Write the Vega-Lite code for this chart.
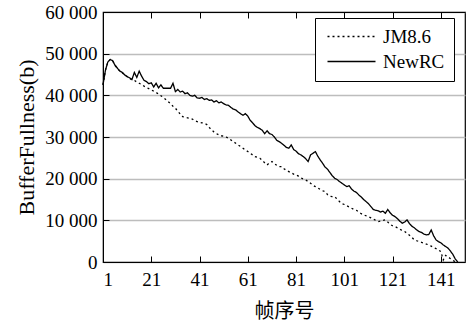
{
  "$schema": "https://vega.github.io/schema/vega-lite/v6.json",
  "width": 362,
  "height": 250,
  "autosize": "none",
  "padding": {"left": 103, "top": 12, "right": 8, "bottom": 62},
  "background": "white",
  "config": {
    "view": {"stroke": "black", "strokeWidth": 1.2},
    "font": "Liberation Serif",
    "axis": {"domainColor": "black", "tickColor": "black", "labelColor": "black", "titleColor": "black", "labelFont": "Liberation Serif", "titleFontWeight": "normal"}
  },
  "datasets": {
    "d": [
      {"frame":1,"series":"NewRC","value":42500},{"frame":2,"series":"NewRC","value":46000},{"frame":3,"series":"NewRC","value":48000},{"frame":4,"series":"NewRC","value":48600},{"frame":5,"series":"NewRC","value":48300},{"frame":6,"series":"NewRC","value":47200},{"frame":7,"series":"NewRC","value":46500},{"frame":8,"series":"NewRC","value":45800},{"frame":9,"series":"NewRC","value":45500},{"frame":10,"series":"NewRC","value":44900},
      {"frame":11,"series":"NewRC","value":44500},{"frame":12,"series":"NewRC","value":44200},{"frame":13,"series":"NewRC","value":43800},{"frame":14,"series":"NewRC","value":45500},{"frame":15,"series":"NewRC","value":44300},{"frame":16,"series":"NewRC","value":45800},{"frame":17,"series":"NewRC","value":44600},{"frame":18,"series":"NewRC","value":43600},{"frame":19,"series":"NewRC","value":43300},{"frame":20,"series":"NewRC","value":42800},
      {"frame":21,"series":"NewRC","value":43000},{"frame":22,"series":"NewRC","value":42000},{"frame":23,"series":"NewRC","value":42900},{"frame":24,"series":"NewRC","value":41800},{"frame":25,"series":"NewRC","value":42500},{"frame":26,"series":"NewRC","value":41700},{"frame":27,"series":"NewRC","value":41700},{"frame":28,"series":"NewRC","value":41700},{"frame":29,"series":"NewRC","value":41700},{"frame":30,"series":"NewRC","value":42900},
      {"frame":31,"series":"NewRC","value":40900},{"frame":32,"series":"NewRC","value":41400},{"frame":33,"series":"NewRC","value":40800},{"frame":34,"series":"NewRC","value":41000},{"frame":35,"series":"NewRC","value":40400},{"frame":36,"series":"NewRC","value":40600},{"frame":37,"series":"NewRC","value":40000},{"frame":38,"series":"NewRC","value":39800},{"frame":39,"series":"NewRC","value":40000},{"frame":40,"series":"NewRC","value":39400},
      {"frame":41,"series":"NewRC","value":39300},{"frame":42,"series":"NewRC","value":39500},{"frame":43,"series":"NewRC","value":39000},{"frame":44,"series":"NewRC","value":39200},{"frame":45,"series":"NewRC","value":38800},{"frame":46,"series":"NewRC","value":38900},{"frame":47,"series":"NewRC","value":38400},{"frame":48,"series":"NewRC","value":38700},{"frame":49,"series":"NewRC","value":38200},{"frame":50,"series":"NewRC","value":38400},
      {"frame":51,"series":"NewRC","value":38000},{"frame":52,"series":"NewRC","value":37700},{"frame":53,"series":"NewRC","value":37600},{"frame":54,"series":"NewRC","value":37100},{"frame":55,"series":"NewRC","value":36700},{"frame":56,"series":"NewRC","value":36500},{"frame":57,"series":"NewRC","value":36000},{"frame":58,"series":"NewRC","value":35600},{"frame":59,"series":"NewRC","value":35200},{"frame":60,"series":"NewRC","value":35600},
      {"frame":61,"series":"NewRC","value":35000},{"frame":62,"series":"NewRC","value":34000},{"frame":63,"series":"NewRC","value":33400},{"frame":64,"series":"NewRC","value":32700},{"frame":65,"series":"NewRC","value":32300},{"frame":66,"series":"NewRC","value":32000},{"frame":67,"series":"NewRC","value":31600},{"frame":68,"series":"NewRC","value":30800},{"frame":69,"series":"NewRC","value":31500},{"frame":70,"series":"NewRC","value":30800},
      {"frame":71,"series":"NewRC","value":30600},{"frame":72,"series":"NewRC","value":30000},{"frame":73,"series":"NewRC","value":29200},{"frame":74,"series":"NewRC","value":28900},{"frame":75,"series":"NewRC","value":28500},{"frame":76,"series":"NewRC","value":28000},{"frame":77,"series":"NewRC","value":27500},{"frame":78,"series":"NewRC","value":27300},{"frame":79,"series":"NewRC","value":28100},{"frame":80,"series":"NewRC","value":27000},
      {"frame":81,"series":"NewRC","value":26600},{"frame":82,"series":"NewRC","value":26000},{"frame":83,"series":"NewRC","value":25700},{"frame":84,"series":"NewRC","value":25300},{"frame":85,"series":"NewRC","value":24800},{"frame":86,"series":"NewRC","value":24100},{"frame":87,"series":"NewRC","value":25700},{"frame":88,"series":"NewRC","value":26100},{"frame":89,"series":"NewRC","value":26500},{"frame":90,"series":"NewRC","value":25400},
      {"frame":91,"series":"NewRC","value":24500},{"frame":92,"series":"NewRC","value":23700},{"frame":93,"series":"NewRC","value":22800},{"frame":94,"series":"NewRC","value":22300},{"frame":95,"series":"NewRC","value":21500},{"frame":96,"series":"NewRC","value":20700},{"frame":97,"series":"NewRC","value":20100},{"frame":98,"series":"NewRC","value":19800},{"frame":99,"series":"NewRC","value":19300},{"frame":100,"series":"NewRC","value":18900},
      {"frame":101,"series":"NewRC","value":18500},{"frame":102,"series":"NewRC","value":18100},{"frame":103,"series":"NewRC","value":18300},{"frame":104,"series":"NewRC","value":17500},{"frame":105,"series":"NewRC","value":17000},{"frame":106,"series":"NewRC","value":16700},{"frame":107,"series":"NewRC","value":16100},{"frame":108,"series":"NewRC","value":15600},{"frame":109,"series":"NewRC","value":15000},{"frame":110,"series":"NewRC","value":14500},
      {"frame":111,"series":"NewRC","value":14000},{"frame":112,"series":"NewRC","value":13300},{"frame":113,"series":"NewRC","value":12600},{"frame":114,"series":"NewRC","value":12400},{"frame":115,"series":"NewRC","value":12300},{"frame":116,"series":"NewRC","value":12000},{"frame":117,"series":"NewRC","value":12200},{"frame":118,"series":"NewRC","value":11700},{"frame":119,"series":"NewRC","value":12600},{"frame":120,"series":"NewRC","value":11800},
      {"frame":121,"series":"NewRC","value":11200},{"frame":122,"series":"NewRC","value":10900},{"frame":123,"series":"NewRC","value":10400},{"frame":124,"series":"NewRC","value":9800},{"frame":125,"series":"NewRC","value":9300},{"frame":126,"series":"NewRC","value":9600},{"frame":127,"series":"NewRC","value":10100},{"frame":128,"series":"NewRC","value":9200},{"frame":129,"series":"NewRC","value":8600},{"frame":130,"series":"NewRC","value":8200},
      {"frame":131,"series":"NewRC","value":7700},{"frame":132,"series":"NewRC","value":7300},{"frame":133,"series":"NewRC","value":7100},{"frame":134,"series":"NewRC","value":6700},{"frame":135,"series":"NewRC","value":6500},{"frame":136,"series":"NewRC","value":6600},{"frame":137,"series":"NewRC","value":7700},{"frame":138,"series":"NewRC","value":6300},{"frame":139,"series":"NewRC","value":5300},{"frame":140,"series":"NewRC","value":4900},
      {"frame":141,"series":"NewRC","value":4600},{"frame":142,"series":"NewRC","value":4100},{"frame":143,"series":"NewRC","value":3700},{"frame":144,"series":"NewRC","value":3300},{"frame":145,"series":"NewRC","value":2600},{"frame":146,"series":"NewRC","value":1800},{"frame":147,"series":"NewRC","value":700},{"frame":148,"series":"NewRC","value":0},
      {"frame":1,"series":"JM8.6","value":42500},{"frame":2,"series":"JM8.6","value":46000},{"frame":3,"series":"JM8.6","value":48000},{"frame":4,"series":"JM8.6","value":48600},{"frame":5,"series":"JM8.6","value":48300},{"frame":6,"series":"JM8.6","value":47200},{"frame":7,"series":"JM8.6","value":46500},{"frame":8,"series":"JM8.6","value":45800},{"frame":9,"series":"JM8.6","value":45400},{"frame":10,"series":"JM8.6","value":44900},
      {"frame":11,"series":"JM8.6","value":44500},{"frame":12,"series":"JM8.6","value":44100},{"frame":13,"series":"JM8.6","value":43700},{"frame":14,"series":"JM8.6","value":43600},{"frame":15,"series":"JM8.6","value":43200},{"frame":16,"series":"JM8.6","value":42900},{"frame":17,"series":"JM8.6","value":42600},{"frame":18,"series":"JM8.6","value":42200},{"frame":19,"series":"JM8.6","value":41900},{"frame":20,"series":"JM8.6","value":41600},
      {"frame":21,"series":"JM8.6","value":41300},{"frame":22,"series":"JM8.6","value":41000},{"frame":23,"series":"JM8.6","value":40700},{"frame":24,"series":"JM8.6","value":40300},{"frame":25,"series":"JM8.6","value":39900},{"frame":26,"series":"JM8.6","value":39500},{"frame":27,"series":"JM8.6","value":39000},{"frame":28,"series":"JM8.6","value":38500},{"frame":29,"series":"JM8.6","value":38000},{"frame":30,"series":"JM8.6","value":37400},
      {"frame":31,"series":"JM8.6","value":36900},{"frame":32,"series":"JM8.6","value":36200},{"frame":33,"series":"JM8.6","value":35500},{"frame":34,"series":"JM8.6","value":34900},{"frame":35,"series":"JM8.6","value":34700},{"frame":36,"series":"JM8.6","value":34600},{"frame":37,"series":"JM8.6","value":34500},{"frame":38,"series":"JM8.6","value":34300},{"frame":39,"series":"JM8.6","value":33900},{"frame":40,"series":"JM8.6","value":33700},
      {"frame":41,"series":"JM8.6","value":33500},{"frame":42,"series":"JM8.6","value":33400},{"frame":43,"series":"JM8.6","value":33300},{"frame":44,"series":"JM8.6","value":33000},{"frame":45,"series":"JM8.6","value":32300},{"frame":46,"series":"JM8.6","value":31700},{"frame":47,"series":"JM8.6","value":31200},{"frame":48,"series":"JM8.6","value":30800},{"frame":49,"series":"JM8.6","value":30500},{"frame":50,"series":"JM8.6","value":30300},
      {"frame":51,"series":"JM8.6","value":30200},{"frame":52,"series":"JM8.6","value":30000},{"frame":53,"series":"JM8.6","value":29700},{"frame":54,"series":"JM8.6","value":29300},{"frame":55,"series":"JM8.6","value":28900},{"frame":56,"series":"JM8.6","value":28500},{"frame":57,"series":"JM8.6","value":28100},{"frame":58,"series":"JM8.6","value":27700},{"frame":59,"series":"JM8.6","value":27300},{"frame":60,"series":"JM8.6","value":26900},
      {"frame":61,"series":"JM8.6","value":26500},{"frame":62,"series":"JM8.6","value":26100},{"frame":63,"series":"JM8.6","value":25700},{"frame":64,"series":"JM8.6","value":25300},{"frame":65,"series":"JM8.6","value":25100},{"frame":66,"series":"JM8.6","value":24900},{"frame":67,"series":"JM8.6","value":24400},{"frame":68,"series":"JM8.6","value":23800},{"frame":69,"series":"JM8.6","value":23300},{"frame":70,"series":"JM8.6","value":23800},
      {"frame":71,"series":"JM8.6","value":24100},{"frame":72,"series":"JM8.6","value":23600},{"frame":73,"series":"JM8.6","value":23200},{"frame":74,"series":"JM8.6","value":22900},{"frame":75,"series":"JM8.6","value":22900},{"frame":76,"series":"JM8.6","value":22400},{"frame":77,"series":"JM8.6","value":22000},{"frame":78,"series":"JM8.6","value":21700},{"frame":79,"series":"JM8.6","value":21400},{"frame":80,"series":"JM8.6","value":21100},
      {"frame":81,"series":"JM8.6","value":20900},{"frame":82,"series":"JM8.6","value":20600},{"frame":83,"series":"JM8.6","value":20200},{"frame":84,"series":"JM8.6","value":19900},{"frame":85,"series":"JM8.6","value":19700},{"frame":86,"series":"JM8.6","value":19300},{"frame":87,"series":"JM8.6","value":18900},{"frame":88,"series":"JM8.6","value":18400},{"frame":89,"series":"JM8.6","value":18100},{"frame":90,"series":"JM8.6","value":17800},
      {"frame":91,"series":"JM8.6","value":17400},{"frame":92,"series":"JM8.6","value":17100},{"frame":93,"series":"JM8.6","value":16900},{"frame":94,"series":"JM8.6","value":16200},{"frame":95,"series":"JM8.6","value":15800},{"frame":96,"series":"JM8.6","value":15700},{"frame":97,"series":"JM8.6","value":15700},{"frame":98,"series":"JM8.6","value":15100},{"frame":99,"series":"JM8.6","value":14500},{"frame":100,"series":"JM8.6","value":14000},
      {"frame":101,"series":"JM8.6","value":13800},{"frame":102,"series":"JM8.6","value":13500},{"frame":103,"series":"JM8.6","value":13200},{"frame":104,"series":"JM8.6","value":12900},{"frame":105,"series":"JM8.6","value":12600},{"frame":106,"series":"JM8.6","value":12400},{"frame":107,"series":"JM8.6","value":12000},{"frame":108,"series":"JM8.6","value":11600},{"frame":109,"series":"JM8.6","value":11300},{"frame":110,"series":"JM8.6","value":11100},
      {"frame":111,"series":"JM8.6","value":10900},{"frame":112,"series":"JM8.6","value":10600},{"frame":113,"series":"JM8.6","value":10300},{"frame":114,"series":"JM8.6","value":10000},{"frame":115,"series":"JM8.6","value":9700},{"frame":116,"series":"JM8.6","value":9800},{"frame":117,"series":"JM8.6","value":10000},{"frame":118,"series":"JM8.6","value":10100},{"frame":119,"series":"JM8.6","value":9600},{"frame":120,"series":"JM8.6","value":9000},
      {"frame":121,"series":"JM8.6","value":8700},{"frame":122,"series":"JM8.6","value":8500},{"frame":123,"series":"JM8.6","value":8200},{"frame":124,"series":"JM8.6","value":7900},{"frame":125,"series":"JM8.6","value":7500},{"frame":126,"series":"JM8.6","value":7300},{"frame":127,"series":"JM8.6","value":6900},{"frame":128,"series":"JM8.6","value":6400},{"frame":129,"series":"JM8.6","value":5900},{"frame":130,"series":"JM8.6","value":5300},
      {"frame":131,"series":"JM8.6","value":5100},{"frame":132,"series":"JM8.6","value":4900},{"frame":133,"series":"JM8.6","value":4700},{"frame":134,"series":"JM8.6","value":4500},{"frame":135,"series":"JM8.6","value":4300},{"frame":136,"series":"JM8.6","value":4100},{"frame":137,"series":"JM8.6","value":3800},{"frame":138,"series":"JM8.6","value":3500},{"frame":139,"series":"JM8.6","value":3200},{"frame":140,"series":"JM8.6","value":2900},
      {"frame":141,"series":"JM8.6","value":2500},{"frame":142,"series":"JM8.6","value":500},{"frame":143,"series":"JM8.6","value":1600},{"frame":144,"series":"JM8.6","value":1200},{"frame":145,"series":"JM8.6","value":800},{"frame":146,"series":"JM8.6","value":400},{"frame":147,"series":"JM8.6","value":0}
    ]
  },
  "data": {"name": "d"},
  "encoding": {
    "x": {"field": "frame", "type": "quantitative", "scale": {"domain": [1, 151], "nice": false, "zero": false}},
    "y": {"field": "value", "type": "quantitative", "scale": {"domain": [0, 60000], "nice": false},
      "axis": {"values": [0, 10000, 20000, 30000, 40000, 50000, 60000], "labelExpr": "replace(format(datum.value, ','), ',', ' ')", "title": "BufferFullness(b)", "titleFont": "Liberation Serif", "titleFontSize": 22, "titlePadding": 6, "labelFontSize": 19, "labelPadding": 12, "tickSize": -6, "grid": true, "gridColor": "#bdbdbd", "gridWidth": 1.5, "domain": true}},
    "strokeDash": {"field": "series", "type": "nominal", "scale": {"domain": ["JM8.6", "NewRC"], "range": [[2, 3], [1, 0]]},
      "legend": {"title": null, "orient": "none", "legendX": 212, "legendY": 6, "strokeColor": "black", "fillColor": "white", "padding": 9, "symbolType": "M-1,0H7", "symbolSize": 144, "symbolStrokeWidth": 1.3, "symbolStrokeColor": "black", "labelFont": "Liberation Serif", "labelFontSize": 19, "labelColor": "black", "labelOffset": 40, "rowPadding": 5}}
  },
  "layer": [
    {
      "transform": [{"filter": "datum.series == 'JM8.6'"}],
      "mark": {"type": "line", "color": "black", "strokeWidth": 1.3},
      "encoding": {
        "x": {"field": "frame", "type": "quantitative", "axis": {"orient": "bottom", "values": [1, 21, 41, 61, 81, 101, 121, 141], "title": "帧序号", "titleFont": "Noto Sans CJK SC", "titleFontSize": 20, "titlePadding": 12, "labelFontSize": 19, "labelPadding": 14, "tickSize": -6, "grid": false}}
      }
    },
    {
      "transform": [{"filter": "datum.series == 'NewRC'"}],
      "mark": {"type": "line", "color": "black", "strokeWidth": 1.3},
      "encoding": {
        "x": {"field": "frame", "type": "quantitative", "axis": {"orient": "top", "values": [1, 21, 41, 61, 81, 101, 121, 141], "title": null, "labels": false, "tickSize": -6, "grid": false}}
      }
    }
  ],
  "resolve": {"axis": {"x": "independent"}}
}
